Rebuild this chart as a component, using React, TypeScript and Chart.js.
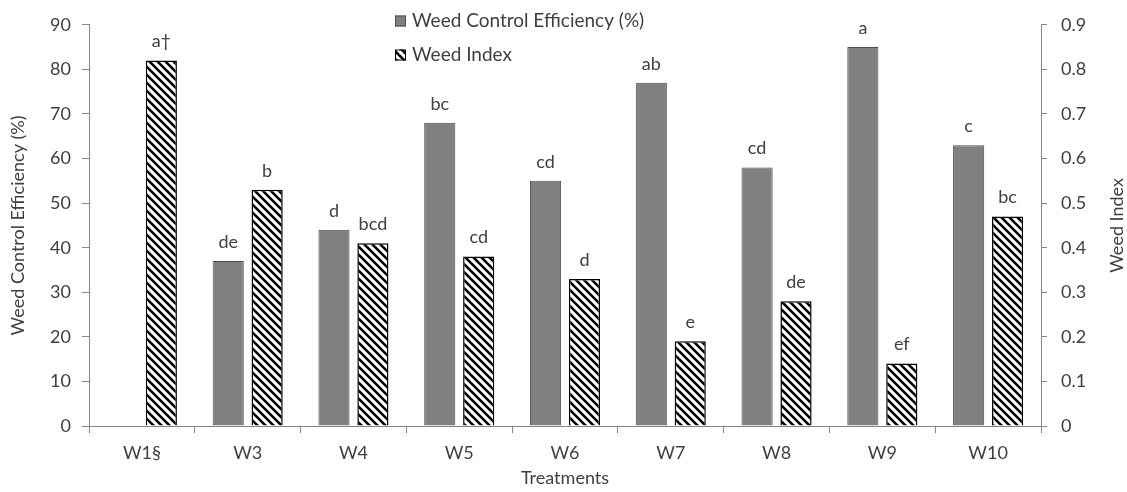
import React, { useEffect, useRef } from "react";
import { Chart, registerables } from "chart.js";

Chart.register(...registerables);

const categories = ["W1§", "W3", "W4", "W5", "W6", "W7", "W8", "W9", "W10"];
const wceValues: (number | null)[] = [null, 37, 44, 68, 55, 77, 58, 85, 63];
const weedIndexValues = [0.82, 0.53, 0.41, 0.38, 0.33, 0.19, 0.28, 0.14, 0.47];
const wceLetters = ["", "de", "d", "bc", "cd", "ab", "cd", "a", "c"];
const wiLetters = ["a†", "b", "bcd", "cd", "d", "e", "de", "ef", "bc"];
const leftTicks = [0, 10, 20, 30, 40, 50, 60, 70, 80, 90];
const rightTicks = [0, 0.1, 0.2, 0.3, 0.4, 0.5, 0.6, 0.7, 0.8, 0.9];
const rightTitle = "Weed Index";

const FONT = "Lato";
const TEXT = "#404040";
const AXIS = "#868686";
const FS = 18;

function makeHatch(): CanvasPattern | string {
  const c = document.createElement("canvas");
  const s = 8;
  c.width = s;
  c.height = s;
  const g = c.getContext("2d");
  if (!g) return "#000";
  g.fillStyle = "#fff";
  g.fillRect(0, 0, s, s);
  g.strokeStyle = "#000";
  g.lineWidth = 2.6;
  for (const off of [-s, 0, s]) {
    g.beginPath();
    g.moveTo(off - 1, -1);
    g.lineTo(off + s + 1, s + 1);
    g.stroke();
  }
  const p = g.createPattern(c, "repeat");
  return p || "#000";
}

export default function App() {
  const ref = useRef<HTMLCanvasElement | null>(null);

  useEffect(() => {
    document.body.style.margin = "0";
    const canvas = ref.current;
    if (!canvas) return;
    const hatch = makeHatch();

    const labelsPlugin = {
      id: "barLetters",
      afterDatasetsDraw(chart: any) {
        const ctx = chart.ctx;
        ctx.save();
        ctx.font = `${FS}px ${FONT}`;
        ctx.fillStyle = TEXT;
        ctx.textAlign = "center";
        ctx.textBaseline = "middle";
        const sets = [wceLetters, wiLetters];
        sets.forEach((letters, di) => {
          const meta = chart.getDatasetMeta(di);
          meta.data.forEach((bar: any, i: number) => {
            const t = letters[i];
            if (!t) return;
            ctx.fillText(t, bar.x, bar.y - 19);
          });
        });
        ctx.restore();
      },
    };

    const legendPlugin = {
      id: "customLegend",
      afterDraw(chart: any) {
        const ctx = chart.ctx;
        ctx.save();
        ctx.font = `19px ${FONT}`;
        ctx.textAlign = "left";
        ctx.textBaseline = "middle";
        const bx = 395;
        const items = [
          { y: 21, text: chart.data.datasets[0].label, fill: "#808080", stroke: "#505050" },
          { y: 55, text: chart.data.datasets[1].label, fill: hatch, stroke: "#000" },
        ];
        items.forEach((it) => {
          ctx.fillStyle = it.fill as any;
          ctx.fillRect(bx, it.y - 5.5, 11, 11);
          ctx.strokeStyle = it.stroke;
          ctx.lineWidth = 1;
          ctx.strokeRect(bx + 0.5, it.y - 5, 10, 10);
          ctx.fillStyle = TEXT;
          ctx.fillText(it.text, 412, it.y);
        });
        // right axis title, rotated to read bottom-to-top
        const y1 = chart.scales.y1;
        ctx.translate(1117, (y1.top + y1.bottom) / 2);
        ctx.rotate(-Math.PI / 2);
        ctx.font = `${FS}px ${FONT}`;
        ctx.textAlign = "center";
        ctx.fillText(rightTitle, 0, 0);
        ctx.restore();
      },
    };

    const chart = new Chart(canvas, {
      type: "bar",
      data: {
        labels: categories,
        datasets: [
          {
            label: "Weed Control Efficiency (%)",
            data: wceValues,
            backgroundColor: "#808080",
            borderColor: "#505050",
            borderWidth: 1,
            yAxisID: "y",
            categoryPercentage: 0.736,
            barPercentage: 0.8,
          },
          {
            label: "Weed Index",
            data: weedIndexValues,
            backgroundColor: hatch as any,
            borderColor: "#000",
            borderWidth: 1.5,
            yAxisID: "y1",
            categoryPercentage: 0.736,
            barPercentage: 0.8,
          },
        ],
      },
      options: {
        animation: false,
        responsive: false,
        maintainAspectRatio: false,
        layout: { padding: { top: 19, left: 0, right: 0, bottom: 0 } },
        plugins: {
          legend: { display: false },
          tooltip: { enabled: false },
        },
        scales: {
          x: {
            offset: true,
            grid: {
              offset: true,
              drawOnChartArea: false,
              drawTicks: true,
              tickLength: 7,
              color: AXIS,
            },
            border: { color: AXIS, width: 1 },
            ticks: { color: TEXT, font: { family: FONT, size: FS }, padding: 9 },
            title: {
              display: true,
              text: "Treatments",
              color: TEXT,
              font: { family: FONT, size: FS },
              padding: { top: 0, bottom: 3 },
            },
            afterFit(scale: any) {
              scale.height = 66;
            },
          },
          y: {
            position: "left",
            min: 0,
            max: 90,
            afterBuildTicks(scale: any) {
              scale.ticks = leftTicks.map((v) => ({ value: v }));
            },
            grid: {
              drawOnChartArea: false,
              drawTicks: true,
              tickLength: 7,
              color: AXIS,
            },
            border: { color: AXIS, width: 1 },
            ticks: { color: TEXT, font: { family: FONT, size: FS }, padding: 11 },
            title: {
              display: true,
              text: "Weed Control Efficiency (%)",
              color: TEXT,
              font: { family: FONT, size: FS },
              padding: { top: 7, bottom: 0 },
            },
            afterFit(scale: any) {
              scale.width = 89;
            },
          },
          y1: {
            position: "right",
            min: 0,
            max: 0.9,
            afterBuildTicks(scale: any) {
              scale.ticks = rightTicks.map((v) => ({ value: v }));
            },
            grid: {
              drawOnChartArea: false,
              drawTicks: true,
              tickLength: 6,
              color: AXIS,
            },
            border: { color: AXIS, width: 1 },
            ticks: {
              color: TEXT,
              font: { family: FONT, size: FS },
              padding: 14,
              callback: (v: any) => String(Math.round(Number(v) * 10) / 10),
            },
            title: { display: false },
            afterFit(scale: any) {
              scale.width = 86;
            },
          },
        },
      },
      plugins: [labelsPlugin, legendPlugin],
    });

    return () => {
      chart.destroy();
    };
  }, []);

  return (
    <div style={{ position: "absolute", left: 0, top: 0, width: 1127, height: 492 }}>
      <canvas ref={ref} width={1127} height={492} style={{ display: "block" }} />
    </div>
  );
}
